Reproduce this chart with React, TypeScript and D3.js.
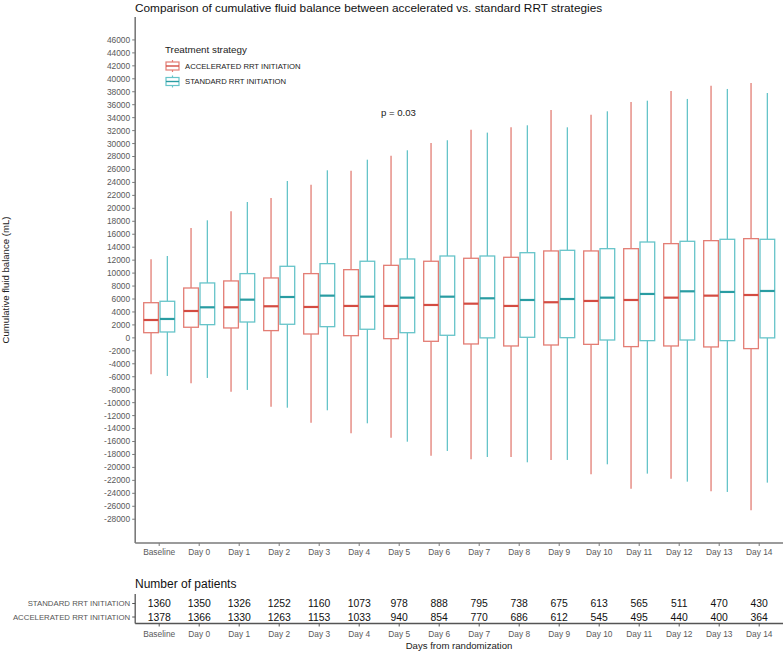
import React from "react";
import * as d3 from "d3";

const categories = ["Baseline","Day 0","Day 1","Day 2","Day 3","Day 4","Day 5","Day 6","Day 7","Day 8","Day 9","Day 10","Day 11","Day 12","Day 13","Day 14"];
const groups = ["ACCELERATED RRT INITIATION", "STANDARD RRT INITIATION"];

const accUpper = [12130,16970,19540,21600,23660,25820,28130,30090,32150,32510,35190,34460,36420,38120,38940,39350];
const accQ3 = [5430,7700,8790,9250,9920,10530,11200,11830,12290,12440,13420,13420,13770,14550,15010,15320];
const accMedian = [2760,4150,4720,4880,4770,4930,4930,5080,5280,4930,5500,5700,5850,6210,6520,6620];
const accQ1 = [800,1640,1530,1120,600,340,-120,-530,-940,-1250,-1100,-1000,-1350,-1250,-1400,-1660];
const accLower = [-5620,-7010,-8300,-10620,-13090,-14730,-15410,-18190,-18750,-18390,-18850,-21060,-23280,-21740,-23690,-26620];

const stdUpper = [12640,18150,20980,24220,25870,27510,28960,30510,31690,32820,32510,34980,36620,36890,38430,37810];
const stdQ3 = [5650,8480,9920,11050,11460,11830,12180,12640,12640,13150,13520,13770,14800,14910,15220,15220];
const stdMedian = [2920,4720,5900,6310,6520,6360,6210,6360,6110,5850,6000,6210,6780,7190,7090,7240];
const stdQ1 = [910,2040,2450,2100,1730,1330,800,400,0,90,30,-330,-430,-330,-430,0];
const stdLower = [-5880,-6190,-8040,-10780,-11180,-13190,-16030,-17460,-18390,-19210,-18850,-19520,-20960,-22200,-23790,-22350];

const stdCounts = [1360,1350,1326,1252,1160,1073,978,888,795,738,675,613,565,511,470,430];
const accCounts = [1378,1366,1330,1263,1153,1033,940,854,770,686,612,545,495,440,400,364];

const yTicks = d3.range(-28000, 46001, 2000);

const boxColor = ["#E37D74", "#66C4C9"];
const medColor = ["#D34C42", "#2A9CA2"];

const FONT = "'Liberation Sans', Arial, sans-serif";

export default function App() {
  const W = 783, H = 652;
  const left = 135.2, right = 783.2, top = 17, bottom = 543;
  const x = d3.scaleBand<string>().domain(categories).range([left, right]).paddingInner(0).paddingOuter(0.1);
  const xg = d3.scaleBand<string>().domain(groups).range([-15.5, 15.5]).paddingInner(0.1);
  const y = d3.scaleLinear().domain([-31670, 49540]).range([bottom, top]);
  const cx = (c: string) => (x(c) as number) + x.bandwidth() / 2;

  const series = [
    { g: groups[0], lo: accLower, q1: accQ1, md: accMedian, q3: accQ3, hi: accUpper },
    { g: groups[1], lo: stdLower, q1: stdQ1, md: stdMedian, q3: stdQ3, hi: stdUpper },
  ];
  const bw = xg.bandwidth();

  const tableAxisY = 623.5;
  const rowY = [603.5, 617];

  return (
    <svg width={W} height={H} style={{ position: "absolute", left: 0, top: 0, background: "#fff" }} fontFamily={FONT}>
      <rect x={0} y={0} width={W} height={H} fill="#fff" />
      <text x={135} y={12} fontSize={11.8} fill="#111">Comparison of cumulative fluid balance between accelerated vs. standard RRT strategies</text>

      {/* y axis */}
      <line x1={left} x2={left} y1={top} y2={bottom} stroke="#7a7a7a" strokeWidth={1.6} />
      {yTicks.map((t) => (
        <g key={t}>
          <line x1={left - 3} x2={left} y1={y(t)} y2={y(t)} stroke="#7a7a7a" strokeWidth={1} />
          <text x={left - 5} y={y(t)} dy="0.35em" textAnchor="end" fontSize={8.4} fill="#5a5a5a">{t}</text>
        </g>
      ))}
      <text transform={`translate(9,${(top + bottom) / 2}) rotate(-90)`} textAnchor="middle" fontSize={9.6} fill="#222">Cumulative fluid balance (mL)</text>

      {/* x axis */}
      <line x1={left} x2={right} y1={bottom} y2={bottom} stroke="#7a7a7a" strokeWidth={1.6} />
      {categories.map((c) => (
        <g key={c}>
          <line x1={cx(c)} x2={cx(c)} y1={bottom} y2={bottom + 3} stroke="#7a7a7a" />
          <text x={cx(c)} y={555} textAnchor="middle" fontSize={8.4} fill="#5a5a5a">{c}</text>
        </g>
      ))}

      {/* boxes */}
      {series.map((s, si) =>
        categories.map((c, i) => {
          const xc = cx(c) + (xg(s.g) as number) + bw / 2;
          return (
            <g key={s.g + c}>
              <line x1={xc} x2={xc} y1={y(s.hi[i])} y2={y(s.q3[i])} stroke={boxColor[si]} strokeWidth={1.3} />
              <line x1={xc} x2={xc} y1={y(s.q1[i])} y2={y(s.lo[i])} stroke={boxColor[si]} strokeWidth={1.3} />
              <rect x={xc - bw / 2} y={y(s.q3[i])} width={bw} height={y(s.q1[i]) - y(s.q3[i])} fill="#fff" stroke={boxColor[si]} strokeWidth={1.3} />
              <line x1={xc - bw / 2} x2={xc + bw / 2} y1={y(s.md[i])} y2={y(s.md[i])} stroke={medColor[si]} strokeWidth={2.2} />
            </g>
          );
        })
      )}

      {/* legend */}
      <text x={165} y={53} fontSize={9.8} fill="#222">Treatment strategy</text>
      {groups.map((g, gi) => {
        const cy = 66 + gi * 15.5;
        return (
          <g key={g}>
            <line x1={172.5} x2={172.5} y1={cy - 6} y2={cy + 6} stroke={boxColor[gi]} strokeWidth={1.2} />
            <rect x={166} y={cy - 4} width={13} height={8} fill="#fff" stroke={boxColor[gi]} strokeWidth={1.2} />
            <line x1={166} x2={179} y1={cy} y2={cy} stroke={medColor[gi]} strokeWidth={1.4} />
            <text x={185} y={cy} dy="0.35em" fontSize={7.7} fill="#222">{g}</text>
          </g>
        );
      })}

      <text x={381} y={116} fontSize={9.6} fill="#222">p = 0.03</text>

      {/* table */}
      <text x={135} y={588} fontSize={12} fill="#111">Number of patients</text>
      <line x1={left} x2={left} y1={594} y2={tableAxisY} stroke="#555" strokeWidth={1.3} />
      <line x1={left} x2={right} y1={tableAxisY} y2={tableAxisY} stroke="#555" strokeWidth={1.3} />
      {["STANDARD RRT INITIATION", "ACCELERATED RRT INITIATION"].map((lab, ri) => (
        <g key={lab}>
          <line x1={left - 3} x2={left} y1={rowY[ri]} y2={rowY[ri]} stroke="#555" />
          <text x={left - 5} y={rowY[ri]} dy="0.35em" textAnchor="end" fontSize={7.8} fill="#555">{lab}</text>
        </g>
      ))}
      {categories.map((c, i) => (
        <g key={"t" + c}>
          <text x={cx(c)} y={rowY[0]} dy="0.36em" textAnchor="middle" fontSize={10.4} fill="#111">{stdCounts[i]}</text>
          <text x={cx(c)} y={rowY[1]} dy="0.36em" textAnchor="middle" fontSize={10.4} fill="#111">{accCounts[i]}</text>
          <line x1={cx(c)} x2={cx(c)} y1={tableAxisY} y2={tableAxisY + 3} stroke="#555" />
          <text x={cx(c)} y={637} textAnchor="middle" fontSize={8.4} fill="#5a5a5a">{c}</text>
        </g>
      ))}
      <text x={459} y={649} textAnchor="middle" fontSize={9.6} fill="#222">Days from randomization</text>
    </svg>
  );
}
